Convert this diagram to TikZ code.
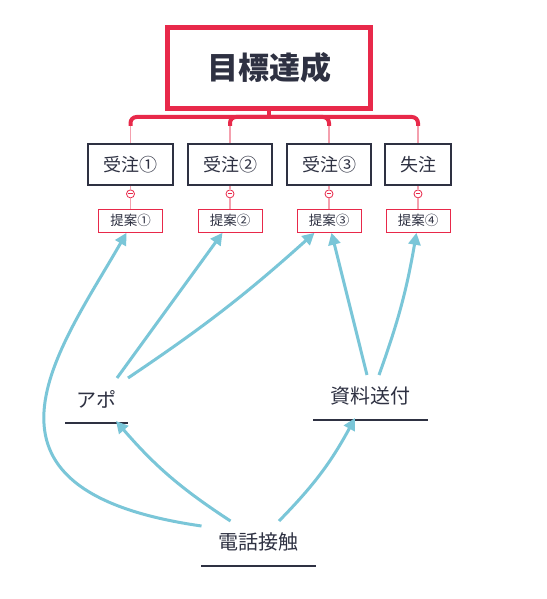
\documentclass[tikz,border=0pt]{standalone}
\usepackage{fontspec}
\setmainfont{Noto Sans CJK JP}
\usetikzlibrary{positioning,arrows.meta}
\definecolor{goalred}{HTML}{E8294A}
\definecolor{twigpink}{HTML}{F4A0AE}
\definecolor{ink}{HTML}{2E3142}
\definecolor{linkblue}{HTML}{7AC6D8}

\begin{document}
\begin{tikzpicture}[x=1pt,y=1pt,>={Triangle[length=12pt,width=12pt]},text=ink]
\tikzstyle{goal}=[draw=goalred,line width=5pt,minimum width=203pt,minimum height=81pt,font=\fontsize{31}{36}\selectfont\bfseries]
\tikzstyle{order}=[draw=ink,line width=2pt,minimum width=85pt,minimum height=41pt,inner sep=0pt,font=\fontsize{18}{22}\selectfont]
\tikzstyle{proposal}=[draw=goalred,line width=1pt,minimum width=64pt,minimum height=23pt,inner sep=0pt,font=\fontsize{13.5}{16}\selectfont]
\tikzstyle{knob}=[circle,draw=goalred,fill=white,line width=0.8pt,minimum size=8pt,inner sep=0pt,
  path picture={\draw[goalred,line width=0.8pt] ([xshift=-2.2pt]path picture bounding box.center) -- ([xshift=2.2pt]path picture bounding box.center);}]
\tikzstyle{topic}=[minimum width=115pt,minimum height=48pt,inner sep=0pt,outer sep=0pt,font=\fontsize{20}{24}\selectfont]
\tikzstyle{branch}=[draw=goalred,line width=4pt,rounded corners=6pt]
\tikzstyle{twig}=[draw=twigpink,line width=1.5pt]
\tikzstyle{rule}=[draw=ink,line width=2pt]
\tikzstyle{link}=[->,draw=linkblue,line width=3pt]
\fill[white] (0,0) rectangle (546,599);
\useasboundingbox (0,0) rectangle (546,599);

\node[goal] (goal) at (269,531) {目標達成};
\node[order] (o1) at (130.5,434.5) {受注①};
\node[order,minimum width=84pt][right=13pt of o1] (o2) {受注②};
\node[order,minimum width=84pt][right=13pt of o2] (o3) {受注③};
\node[order,minimum width=66pt][right=12pt of o3] (o4) {失注};

\foreach \i/\t in {1/①,2/②,3/③,4/④} {
  \node[knob][below=3.5pt of o\i] (k\i) {};
  \node[proposal][below=10.5pt of k\i] (p\i) {提案\t};
}

% tree branches
\coordinate (hub) at ([yshift=-6pt]goal.south);
\draw[branch] (goal.south) -- (hub);
\foreach \i in {1,...,4} {
  \draw[branch] (hub) -| ([yshift=17pt]o\i.north);
  \draw[twig] ([yshift=17pt]o\i.north) -- (o\i.north);
  \draw[twig] (o\i.south) -- (k\i);
  \draw[twig] (k\i) -- (p\i);
}

\node[topic,minimum width=63pt] (apo) at (96.5,200) {アポ};
\node[topic] (docs) at (370.5,203) {資料送付};
\node[topic] (call) at (258.5,57) {電話接触};
\foreach \n in {apo,docs,call}
  \draw[rule] (\n.south west) -- (\n.south east);

% links
\draw[link] ([shift={(-57pt,16pt)}]call.center) .. controls (-50,109) and (60,250) .. ([xshift=-4pt]p1.south);
\draw[link] ([shift={(-28pt,21pt)}]call.center) to[bend left=8] ([shift={(19.5pt,2pt)}]apo.south);
\draw[link] ([shift={(20.5pt,21pt)}]call.center) to[bend right=8] ([shift={(-15.5pt,2pt)}]docs.south);
\draw[link] ([shift={(20.5pt,21pt)}]apo.center) -- ([xshift=-7.5pt]p2.south);
\draw[link] ([shift={(31.5pt,21pt)}]apo.center) to[bend right=4] ([xshift=-14.5pt]p3.south);
\draw[link] ([shift={(-3.5pt,21pt)}]docs.center) -- ([xshift=2.5pt]p3.south);
\draw[link] ([shift={(8.5pt,21pt)}]docs.center) to[bend right=5] ([xshift=-1.5pt]p4.south);
\end{tikzpicture}
\end{document}
